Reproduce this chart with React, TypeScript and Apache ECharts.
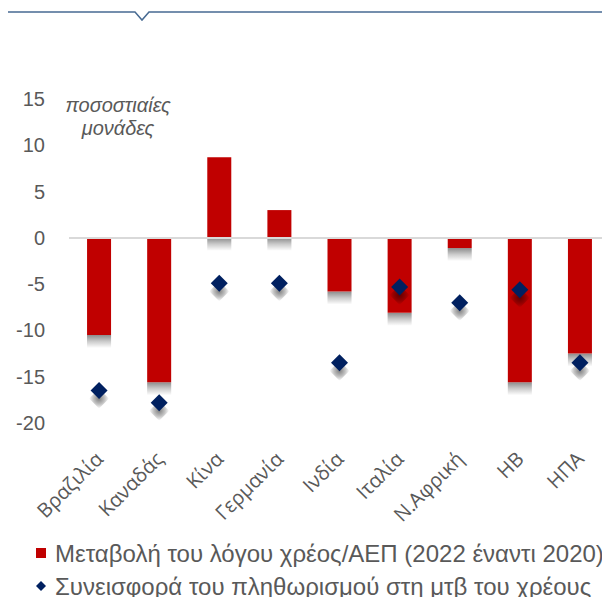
import React, { useEffect, useRef } from "react";
import * as echarts from "echarts";

const categories = ["Βραζιλία", "Καναδάς", "Κίνα", "Γερμανία", "Ινδία", "Ιταλία", "Ν.Αφρική", "ΗΒ", "ΗΠΑ"];
const debtRatioChange = [-10.5, -15.6, 8.7, 3.0, -5.8, -8.1, -1.1, -15.6, -12.5];
const inflationContribution = [-16.5, -17.8, -4.9, -4.9, -13.5, -5.3, -7.0, -5.6, -13.5];
const seriesNames = [
  "Μεταβολή του λόγου χρέος/ΑΕΠ (2022 έναντι 2020)",
  "Συνεισφορά του πληθωρισμού στη μτβ του χρέους",
];
const unitLines = ["ποσοστιαίες", "μονάδες"];

const GREY = "#595959";

const legendText = {
  color: GREY,
  fontFamily: "Liberation Sans, Arial",
  fontSize: 24,
  lineHeight: 24,
  padding: [0, 0, 0, 4],
};

export default function App() {
  const ref = useRef<HTMLDivElement>(null);
  useEffect(() => {
    if (!ref.current) return;
    const chart = echarts.init(ref.current, undefined, { renderer: "svg" });
    const barShadowGrad = new echarts.graphic.LinearGradient(0, 0, 0, 1, [
      { offset: 0, color: "rgba(0,0,0,0.45)" },
      { offset: 0.5, color: "rgba(0,0,0,0.2)" },
      { offset: 1, color: "rgba(0,0,0,0)" },
    ]);
    const diamondShadow = {
      type: "radial",
      x: 0.5,
      y: 0.5,
      r: 0.5,
      colorStops: [
        { offset: 0, color: "rgba(0,0,0,0.5)" },
        { offset: 0.55, color: "rgba(0,0,0,0.25)" },
        { offset: 1, color: "rgba(0,0,0,0)" },
      ],
    };
    chart.setOption({
      animation: false,
      backgroundColor: "#ffffff",
      grid: { left: 69, right: -3, top: 99, bottom: 182, containLabel: false },
      xAxis: {
        type: "category",
        data: categories,
        axisLine: { show: false, onZero: false },
        axisTick: { show: false },
        axisLabel: {
          rotate: 45,
          interval: 0,
          margin: 32,
          color: GREY,
          fontFamily: "Open Sans",
          fontSize: 20,
        },
      },
      yAxis: {
        type: "value",
        min: -20,
        max: 15,
        interval: 5,
        axisLine: { show: false },
        axisTick: { show: false },
        splitLine: { show: false },
        axisLabel: {
          margin: 24,
          color: GREY,
          fontFamily: "Liberation Sans, Arial",
          fontSize: 20,
        },
      },
      legend: [
        {
          left: 36,
          top: 541,
          padding: 0,
          itemWidth: 10,
          itemHeight: 10,
          data: [{ name: seriesNames[0], icon: "rect" }],
          textStyle: legendText,
        },
        {
          left: 36,
          top: 574,
          padding: 0,
          itemWidth: 10,
          itemHeight: 10,
          data: [{ name: seriesNames[1], icon: "diamond" }],
          textStyle: legendText,
        },
      ],
      graphic: [
        {
          type: "polyline",
          shape: { points: [[8, 12], [135, 12], [142, 20], [149, 12], [610, 12]] },
          style: { stroke: "#476a92", lineWidth: 1.5, fill: null },
        },
        {
          type: "text",
          x: 118,
          y: 105,
          style: {
            text: unitLines[0],
            fill: GREY,
            font: "italic 20px 'Liberation Sans', Arial",
            align: "center",
            verticalAlign: "middle",
          },
        },
        {
          type: "text",
          x: 118,
          y: 128,
          style: {
            text: unitLines[1],
            fill: GREY,
            font: "italic 20px 'Liberation Sans', Arial",
            align: "center",
            verticalAlign: "middle",
          },
        },
      ],
      series: [
        {
          name: "barShadow",
          type: "custom",
          silent: true,
          z: 1,
          data: debtRatioChange.map((v, i) => [i, v]),
          renderItem: (params: any, api: any) => {
            const idx = api.value(0);
            const v = api.value(1);
            const end = api.coord([idx, Math.min(v, 0)]);
            const w = api.size([1, 0])[0] * 0.4;
            return {
              type: "rect",
              shape: { x: end[0] - w / 2, y: end[1], width: w, height: 13 },
              style: { fill: barShadowGrad },
            };
          },
        },
        {
          name: seriesNames[0],
          type: "bar",
          data: debtRatioChange,
          barWidth: 24,
          z: 2,
          itemStyle: { color: "#c00000" },
          markLine: {
            silent: true,
            symbol: ["none", "none"],
            label: { show: false },
            lineStyle: { color: "#d9d9d9", width: 2, type: "solid" },
            data: [{ yAxis: 0 }],
          },
        },
        {
          name: "diamondShadow",
          type: "scatter",
          silent: true,
          data: inflationContribution,
          symbol: "diamond",
          symbolSize: 20,
          symbolOffset: [0, 8],
          itemStyle: { color: diamondShadow, opacity: 1 },
          z: 4,
        },
        {
          name: seriesNames[1],
          type: "scatter",
          data: inflationContribution,
          symbol: "diamond",
          symbolSize: 17,
          itemStyle: { color: "#002060", opacity: 1 },
          z: 5,
        },
      ],
    });
    return () => chart.dispose();
  }, []);
  return <div ref={ref} style={{ width: 610, height: 605, margin: -8 }} />;
}
